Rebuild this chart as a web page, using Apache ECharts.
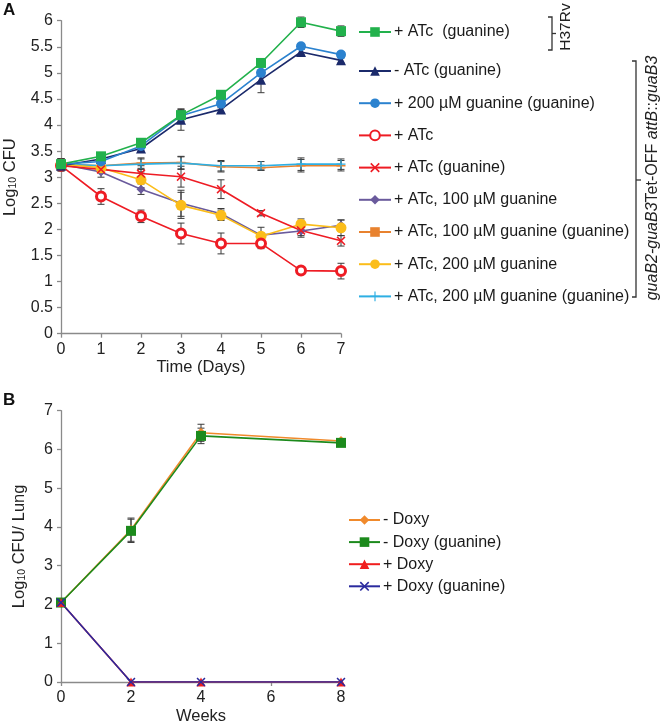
<!DOCTYPE html>
<html><head><meta charset="utf-8">
<script src="https://cdn.jsdelivr.net/npm/echarts@6/dist/echarts.min.js"></script>
<style>html,body{margin:0;padding:0;background:#fff}#c{width:666px;height:726px}</style>
</head><body><div id="c"></div>
<script>
// ---- Panel A data ----
const days = [0, 1, 2, 3, 4, 5, 6, 7];
const aNames = ['+ ATc  (guanine)', '- ATc (guanine)', '+ 200 µM guanine (guanine)', '+ ATc', '+ ATc (guanine)',
  '+ ATc, 100 µM guanine', '+ ATc, 100 µM guanine (guanine)', '+ ATc, 200 µM guanine', '+ ATc, 200 µM guanine (guanine)'];
const aGreen   = [3.25, 3.40, 3.66, 4.19, 4.58, 5.19, 5.97, 5.80];
const aNavy    = [3.22, 3.35, 3.55, 4.10, 4.30, 4.87, 5.40, 5.24];
const aBlue    = [3.25, 3.30, 3.60, 4.18, 4.41, 5.00, 5.51, 5.35];
const aRedO    = [3.22, 2.63, 2.25, 1.92, 1.73, 1.73, 1.21, 1.20];
const aRedX    = [3.22, 3.15, 3.07, 3.01, 2.77, 2.31, 1.98, 1.78];
const aPurple  = [3.25, 3.10, 2.77, 2.50, 2.30, 1.89, 1.97, 2.08];
const aOrange  = [3.25, 3.22, 3.27, 3.28, 3.20, 3.18, 3.22, 3.22];
const aYellow  = [3.25, 3.18, 2.95, 2.46, 2.27, 1.87, 2.10, 2.03];
const aCyan    = [3.25, 3.22, 3.25, 3.27, 3.22, 3.22, 3.25, 3.25];
const eGreen   = [0.10, 0.05, 0.08, 0.12, 0.06, 0.05, 0.10, 0.10];
const eNavy    = [0.05, 0.05, 0.05, 0.20, 0.07, 0.25, 0.05, 0.05];
const eBlue    = [0.05, 0.05, 0.05, 0.10, 0.08, 0.05, 0.05, 0.05];
const eRedO    = [0.10, 0.15, 0.12, 0.20, 0.20, 0.10, 0.05, 0.15];
const eRedX    = [0.10, 0.05, 0.15, 0.20, 0.18, 0.05, 0.10, 0.10];
const ePurple  = [0.10, 0.10, 0.10, 0.25, 0.10, 0.15, 0.12, 0.10];
const eOrange  = [0.10, 0.05, 0.10, 0.12, 0.10, 0.05, 0.12, 0.10];
const eYellow  = [0.10, 0.05, 0.15, 0.25, 0.10, 0.05, 0.10, 0.15];
const eCyan    = [0.10, 0.05, 0.10, 0.12, 0.10, 0.08, 0.12, 0.10];

// ---- Panel B data ----
const weeks = [0, 2, 4, 8];
const bNames = ['- Doxy', '- Doxy (guanine)', '+ Doxy', '+ Doxy (guanine)'];
const bOrange = [2.05, 3.93, 6.43, 6.22];
const bGreen  = [2.05, 3.90, 6.35, 6.17];
const bRed    = [2.05, 0, 0, 0];
const bBlue   = [2.05, 0, 0, 0];
const ebOrange = [0.05, 0.30, 0.22, 0.05];
const ebGreen  = [0.05, 0.30, 0.20, 0.05];

const FONT = '"Liberation Sans", Arial, sans-serif';
const X_PATH = 'path://M0,1.2 L1.2,0 L5,3.8 L8.8,0 L10,1.2 L6.2,5 L10,8.8 L8.8,10 L5,6.2 L1.2,10 L0,8.8 L3.8,5 Z';
const PLUS_PATH = 'path://M4.4,0 H5.6 V4.4 H10 V5.6 H5.6 V10 H4.4 V5.6 H0 V4.4 H4.4 Z';
const DASH_PATH = 'path://M0,0 H10 V4 H0 Z';

function zip(xs, ys) { return xs.map((x, i) => [x, ys[i]]); }
function zip3(xs, ys, es) { return xs.map((x, i) => [x, ys[i], es[i]]); }

function lineSeries(name, xs, ys, color, symbol, size, gi, extra) {
  return Object.assign({
    name, type: 'line', data: zip(xs, ys), xAxisIndex: gi, yAxisIndex: gi,
    symbol, symbolSize: size, color, z: 3,
    lineStyle: { color, width: 1.6 },
    itemStyle: { color, borderColor: color, borderWidth: 0 }
  }, extra || {});
}

function errSeries(xs, ys, es, gi) {
  return {
    type: 'custom', xAxisIndex: gi, yAxisIndex: gi, z: 2, silent: true,
    data: zip3(xs, ys, es), encode: { x: 0, y: 1 },
    renderItem: function (params, api) {
      const x = api.value(0), y = api.value(1), e = api.value(2);
      if (!e) return null;
      const t = api.coord([x, y + e]), b = api.coord([x, y - e]);
      const w = 3.5, st = { stroke: '#3a3a3a', lineWidth: 1 };
      return { type: 'group', children: [
        { type: 'line', shape: { x1: t[0], y1: t[1], x2: b[0], y2: b[1] }, style: st },
        { type: 'line', shape: { x1: t[0] - w, y1: t[1], x2: t[0] + w, y2: t[1] }, style: st },
        { type: 'line', shape: { x1: b[0] - w, y1: b[1], x2: b[0] + w, y2: b[1] }, style: st }
      ]};
    }
  };
}

const axisLine = { show: true, lineStyle: { color: '#8a8a8a', width: 1.3 } };
const axisTick = { show: true, inside: false, length: 4, lineStyle: { color: '#8a8a8a', width: 1.3 } };
const axisLabel = { color: '#222', fontSize: 16, fontFamily: FONT };
const nameStyle = { fontSize: 16.5, color: '#222', fontFamily: FONT };

const C = {
  green: '#22B14C', navy: '#1B2A6B', blue: '#2B82CF', red: '#EE1C24', purple: '#6A5A9C',
  orange: '#E8822F', yellow: '#FBBD1A', cyan: '#2EAFE3',
  bOrange: '#F08A2C', bGreen: '#1C8A1C', bRed: '#F01E1E', bBlue: '#2A2A9E'
};

const series = [
  errSeries(days, aGreen, eGreen, 0), errSeries(days, aNavy, eNavy, 0), errSeries(days, aBlue, eBlue, 0),
  errSeries(days, aRedO, eRedO, 0), errSeries(days, aRedX, eRedX, 0), errSeries(days, aPurple, ePurple, 0),
  errSeries(days, aOrange, eOrange, 0), errSeries(days, aYellow, eYellow, 0), errSeries(days, aCyan, eCyan, 0),
  lineSeries(aNames[6], days, aOrange, C.orange, DASH_PATH, [9, 4], 0, { symbolKeepAspect: true }),
  lineSeries(aNames[8], days, aCyan, C.cyan, PLUS_PATH, 9, 0),
  lineSeries(aNames[5], days, aPurple, C.purple, 'diamond', 9, 0),
  lineSeries(aNames[7], days, aYellow, C.yellow, 'circle', 11, 0),
  lineSeries(aNames[4], days, aRedX, C.red, X_PATH, 9, 0),
  lineSeries(aNames[3], days, aRedO, C.red, 'circle', 9, 0, {
    itemStyle: { color: '#fff', borderColor: C.red, borderWidth: 3 } }),
  lineSeries(aNames[1], days, aNavy, C.navy, 'triangle', 10, 0),
  lineSeries(aNames[2], days, aBlue, C.blue, 'circle', 10, 0),
  lineSeries(aNames[0], days, aGreen, C.green, 'rect', 10, 0),
  errSeries(weeks, bOrange, ebOrange, 1), errSeries(weeks, bGreen, ebGreen, 1),
  lineSeries(bNames[0], weeks, bOrange, C.bOrange, 'diamond', 10, 1),
  lineSeries(bNames[1], weeks, bGreen, C.bGreen, 'rect', 10, 1),
  lineSeries(bNames[2], weeks, bRed, C.bRed, 'triangle', 9, 1),
  lineSeries(bNames[3], weeks, bBlue, C.bBlue, X_PATH, 9, 1)
];

const legendText = { fontSize: 16, color: '#1a1a1a', fontFamily: FONT, padding: [0, 0, 0, -2] };
const option = {
  animation: false,
  backgroundColor: '#fff',
  textStyle: { fontFamily: FONT },
  grid: [
    { left: 61, top: 20.7, width: 280, height: 313 },
    { left: 61, top: 410.7, width: 280, height: 275 }
  ],
  xAxis: [
    { type: 'value', gridIndex: 0, min: 0, max: 7, interval: 1, splitLine: { show: false },
      axisLine, axisTick, axisLabel: Object.assign({ margin: 8 }, axisLabel),
      name: 'Time (Days)', nameLocation: 'middle', nameGap: 25, nameTextStyle: nameStyle },
    { type: 'value', gridIndex: 1, min: 0, max: 8, interval: 2, splitLine: { show: false },
      axisLine, axisTick, axisLabel: Object.assign({ margin: 8 }, axisLabel),
      name: 'Weeks', nameLocation: 'middle', nameGap: 26, nameTextStyle: nameStyle }
  ],
  yAxis: [
    { type: 'value', gridIndex: 0, min: 0, max: 6, interval: 0.5, splitLine: { show: false },
      axisLine, axisTick, axisLabel: Object.assign({ margin: 8 }, axisLabel),
      name: 'Log{s|10} CFU', nameLocation: 'middle', nameGap: 42,
      nameTextStyle: Object.assign({}, nameStyle, {
        rich: { s: { fontSize: 10.5, color: '#222', verticalAlign: 'bottom', lineHeight: 10 } } }) },
    { type: 'value', gridIndex: 1, min: 0, max: 7, interval: 1, splitLine: { show: false },
      axisLine, axisTick, axisLabel: Object.assign({ margin: 8 }, axisLabel),
      name: 'Log{s|10} CFU/ Lung', nameLocation: 'middle', nameGap: 33,
      nameTextStyle: Object.assign({}, nameStyle, {
        rich: { s: { fontSize: 10.5, color: '#222', verticalAlign: 'bottom', lineHeight: 10 } } }) }
  ],
  legend: [
    { data: [aNames[0]], orient: 'vertical', left: 358, top: 24, padding: 0, itemWidth: 32, itemHeight: 12,
      itemGap: 17.3, textStyle: legendText, selectedMode: false },
    { data: aNames.slice(1), orient: 'vertical', left: 358, top: 63, padding: 0, itemWidth: 32, itemHeight: 12,
      itemGap: 16.2, textStyle: legendText, selectedMode: false },
    { data: bNames, orient: 'vertical', left: 348, top: 512, padding: 0, itemWidth: 31, itemHeight: 12,
      itemGap: 6.1, textStyle: legendText, selectedMode: false }
  ],
  graphic: [
    { type: 'text', left: 3, top: 2, style: { text: 'A', fontSize: 17, fontWeight: 'bold', fill: '#111', fontFamily: FONT } },
    { type: 'text', left: 3, top: 392, style: { text: 'B', fontSize: 17, fontWeight: 'bold', fill: '#111', fontFamily: FONT } },
    { type: 'polyline', shape: { points: [[548, 17], [552, 17], [552, 50], [548, 50]] }, style: { stroke: '#333', lineWidth: 1.3, fill: null } },
    { type: 'polyline', shape: { points: [[552, 33.5], [556, 33.5]] }, style: { stroke: '#333', lineWidth: 1.3, fill: null } },
    { type: 'text', x: 566, y: 27, rotation: Math.PI / 2,
      style: { text: 'H37Rv', fontSize: 15.5, fill: '#222', fontFamily: FONT, align: 'center', verticalAlign: 'middle' } },
    { type: 'polyline', shape: { points: [[632, 61], [636, 61], [636, 297], [632, 297]] }, style: { stroke: '#333', lineWidth: 1.3, fill: null } },
    { type: 'polyline', shape: { points: [[636, 180], [641, 180]] }, style: { stroke: '#333', lineWidth: 1.3, fill: null } },
    { type: 'text', x: 653, y: 178, rotation: Math.PI / 2,
      style: { text: '{i|guaB2-guaB3}Tet-OFF {i|attB}::{i|guaB3}', fontSize: 16, fill: '#222', fontFamily: FONT,
        align: 'center', verticalAlign: 'middle',
        rich: { i: { fontStyle: 'italic', fontSize: 16, fill: '#222', fontFamily: FONT } } } }
  ],
  series
};

const chart = echarts.init(document.getElementById('c'), null, { renderer: 'canvas' });
chart.setOption(option);
</script>
</body></html>
